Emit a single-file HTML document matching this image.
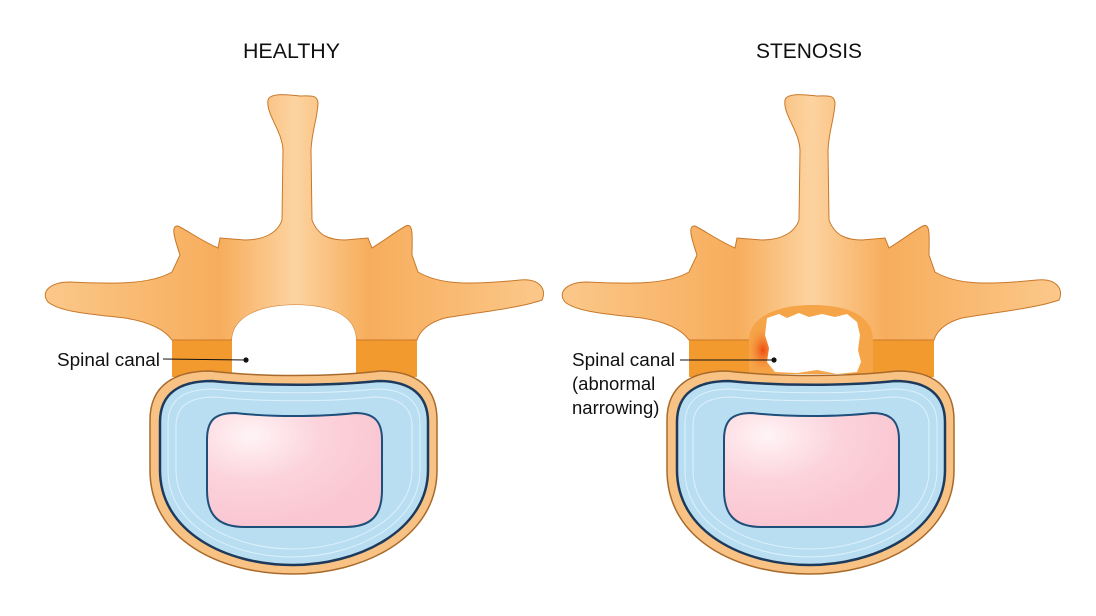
<!DOCTYPE html>
<html><head><meta charset="utf-8"><style>
html,body{margin:0;padding:0;background:#fff;}
svg{display:block;}
text{font-family:"Liberation Sans",sans-serif;fill:#111;}
</style></head><body>
<svg width="1096" height="616" viewBox="0 0 1096 616" xmlns="http://www.w3.org/2000/svg">
<defs>
<linearGradient id="bone" x1="0" y1="0" x2="1" y2="0">
<stop offset="0" stop-color="#fbc88a"/><stop offset="0.35" stop-color="#f7ad5c"/><stop offset="0.5" stop-color="#fcd3a0"/><stop offset="0.65" stop-color="#f7ad5c"/><stop offset="1" stop-color="#fbc88a"/>
</linearGradient>
<radialGradient id="pink" cx="0.25" cy="0.2" r="0.8">
<stop offset="0" stop-color="#fff4f6"/><stop offset="0.5" stop-color="#fcd3dc"/><stop offset="1" stop-color="#f9c6d2"/>
</radialGradient>
<radialGradient id="red" cx="0.5" cy="0.5" r="0.5">
<stop offset="0" stop-color="#ee4a12"/><stop offset="1" stop-color="#f39a3a" stop-opacity="0"/>
</radialGradient>
</defs>

<text x="243" y="58" font-size="21.5" textLength="97" lengthAdjust="spacingAndGlyphs">HEALTHY</text>
<text x="756" y="58" font-size="21.5" textLength="106" lengthAdjust="spacingAndGlyphs">STENOSIS</text>

<g>
<rect x="172" y="325" width="60" height="52" fill="#f39a2e"/>
<rect x="356" y="325" width="61" height="52" fill="#f39a2e"/>
<path d="M268,100 C270,92 290,95 300,96 C310,96 318,94 318,104 C317,120 312,130 311,150 L312,220 C318,236 330,240 345,240 L368,238 L372,248 C385,240 398,230 406,226 C414,222 412,240 412,255 L418,272 C440,285 470,285 520,280 C540,278 547,290 542,300 C520,308 480,312 445,318 C430,322 420,330 417,340 L356,340 C356,318 335,305 295,305 C255,305 232,320 232,340 L172,340 C165,330 150,322 125,318 C90,314 60,312 48,302 C40,292 50,282 70,282 C110,284 150,285 172,272 L180,255 C175,240 170,225 178,226 C190,232 200,240 218,248 L220,238 L245,240 C265,240 278,232 282,220 L283,150 C282,130 266,115 268,100 Z" fill="url(#bone)" stroke="#c8782a" stroke-width="1"/>
<path d="M232,372 L232,340 C232,320 255,305 295,305 C335,305 356,318 356,340 L356,374 Z" fill="#fff"/>
<path d="M150,420 C150,385 175,371 210,371 C260,377 330,377 380,371 C420,371 437,390 437,420 L437,470 C437,540 360,574 293,574 C220,574 150,540 150,470 Z" fill="#f7c284" stroke="#a86a2a" stroke-width="1.5"/>
<path d="M160,422 C160,393 180,381 212,381 C262,386 330,386 378,381 C412,381 428,396 428,422 L428,470 C428,532 356,565 293,565 C226,565 160,532 160,470 Z" fill="#b9def2" stroke="#1d3a5c" stroke-width="2.5"/>
<path d="M168,424 C168,398 186,389 214,389 C262,394 330,394 376,389 C406,389 420,402 420,424 L420,470 C420,526 352,557 293,557 C230,557 168,526 168,470 Z" fill="none" stroke="#e6f5fc" stroke-width="1" opacity="0.8"/>
<path d="M176,426 C176,404 192,397 216,397 C262,402 330,402 374,397 C400,397 412,408 412,426 L412,470 C412,520 350,549 293,549 C234,549 176,520 176,470 Z" fill="none" stroke="#e6f5fc" stroke-width="1" opacity="0.8"/>
<path d="M207,440 C207,420 215,413 235,413 C270,417 320,417 355,413 C375,413 382,422 382,440 L382,490 C382,515 372,527 345,527 L245,527 C218,527 207,515 207,490 Z" fill="url(#pink)" stroke="#1d4f7a" stroke-width="2"/>
</g>

<g transform="translate(517,0)">
<rect x="172" y="325" width="60" height="52" fill="#f39a2e"/>
<rect x="356" y="325" width="61" height="52" fill="#f39a2e"/>
<path d="M268,100 C270,92 290,95 300,96 C310,96 318,94 318,104 C317,120 312,130 311,150 L312,220 C318,236 330,240 345,240 L368,238 L372,248 C385,240 398,230 406,226 C414,222 412,240 412,255 L418,272 C440,285 470,285 520,280 C540,278 547,290 542,300 C520,308 480,312 445,318 C430,322 420,330 417,340 L172,340 C165,330 150,322 125,318 C90,314 60,312 48,302 C40,292 50,282 70,282 C110,284 150,285 172,272 L180,255 C175,240 170,225 178,226 C190,232 200,240 218,248 L220,238 L245,240 C265,240 278,232 282,220 L283,150 C282,130 266,115 268,100 Z" fill="url(#bone)" stroke="#c8782a" stroke-width="1"/>
<path d="M232,374 L232,340 C232,320 255,305 295,305 C335,305 356,318 356,340 L356,374 Z" fill="#f6a448"/>
<ellipse cx="246" cy="350" rx="16" ry="24" fill="url(#red)"/>
<path d="M250,318 L262,314 L270,318 L282,313 L292,317 L305,314 L318,317 L330,314 L340,322 L343,335 L341,350 L344,362 L340,372 L320,374 L300,370 L280,373 L258,372 L250,362 L252,348 L248,335 Z" fill="#fff"/>
<path d="M150,420 C150,385 175,371 210,371 C260,377 330,377 380,371 C420,371 437,390 437,420 L437,470 C437,540 360,574 293,574 C220,574 150,540 150,470 Z" fill="#f7c284" stroke="#a86a2a" stroke-width="1.5"/>
<path d="M160,422 C160,393 180,381 212,381 C262,386 330,386 378,381 C412,381 428,396 428,422 L428,470 C428,532 356,565 293,565 C226,565 160,532 160,470 Z" fill="#b9def2" stroke="#1d3a5c" stroke-width="2.5"/>
<path d="M168,424 C168,398 186,389 214,389 C262,394 330,394 376,389 C406,389 420,402 420,424 L420,470 C420,526 352,557 293,557 C230,557 168,526 168,470 Z" fill="none" stroke="#e6f5fc" stroke-width="1" opacity="0.8"/>
<path d="M176,426 C176,404 192,397 216,397 C262,402 330,402 374,397 C400,397 412,408 412,426 L412,470 C412,520 350,549 293,549 C234,549 176,520 176,470 Z" fill="none" stroke="#e6f5fc" stroke-width="1" opacity="0.8"/>
<path d="M207,440 C207,420 215,413 235,413 C270,417 320,417 355,413 C375,413 382,422 382,440 L382,490 C382,515 372,527 345,527 L245,527 C218,527 207,515 207,490 Z" fill="url(#pink)" stroke="#1d4f7a" stroke-width="2"/>
</g>

<text x="57" y="366" font-size="18.5" textLength="103" lengthAdjust="spacingAndGlyphs">Spinal canal</text>
<line x1="163" y1="359" x2="246" y2="360" stroke="#111" stroke-width="1"/>
<circle cx="246" cy="360" r="2.6" fill="#111"/>

<text x="572" y="366" font-size="18.5" textLength="103" lengthAdjust="spacingAndGlyphs">Spinal canal</text>
<text x="572" y="390" font-size="18.5">(abnormal</text>
<text x="572" y="414" font-size="18.5">narrowing)</text>
<line x1="680" y1="360" x2="774" y2="360" stroke="#111" stroke-width="1"/>
<circle cx="774" cy="360" r="2.6" fill="#111"/>
</svg>
</body></html>
